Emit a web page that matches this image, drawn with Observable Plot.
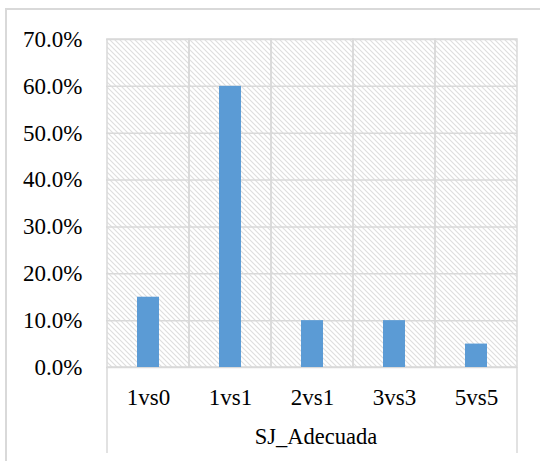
<!DOCTYPE html>
<html>
<head>
<meta charset="utf-8">
<script src="https://cdn.jsdelivr.net/npm/d3@7"></script>
<script src="https://cdn.jsdelivr.net/npm/@observablehq/plot@0.6"></script>
<style>
  html, body { margin: 0; padding: 0; background: #fff; }
  #wrap { position: relative; width: 540px; height: 461px; overflow: hidden; }
  #border { position: absolute; left: 5px; top: 8px; width: 600px; height: 600px;
            border-top: 2px solid #d9d9d9; border-left: 2px solid #d9d9d9; }
  #chart { position: absolute; left: 0; top: 0; }
</style>
</head>
<body>
<div id="wrap"><div id="border"></div><div id="chart"></div></div>
<script>
const categories = ["1vs0", "1vs1", "2vs1", "3vs3", "5vs5"];
const values = [0.15, 0.60, 0.10, 0.10, 0.05];
const yTicks = [0, 0.1, 0.2, 0.3, 0.4, 0.5, 0.6, 0.7];
const groupLabel = "SJ_Adecuada";

const data = categories.map((c, i) => ({category: c, value: values[i]}));
const font = "'Liberation Serif', 'Times New Roman', serif";
const grid = "#d9d9d9";

const plot = Plot.plot({
  width: 540,
  height: 461,
  marginLeft: 106,
  marginRight: 23,
  marginTop: 39,
  marginBottom: 94,
  style: {background: "transparent", overflow: "visible"},
  x: {domain: categories, padding: 0, label: null},
  y: {domain: [0, 0.7], label: null},
  marks: [
    Plot.barY(categories, {x: d => d, y1: 0, y2: 0.7, fill: "url(#hatch)"}),
    Plot.gridY(yTicks, {stroke: grid, strokeOpacity: 1, strokeWidth: 1.5}),
    Plot.barY(categories, {x: d => d, y1: 0, y2: 0.7, fill: "none", stroke: grid, strokeWidth: 1.5}),
    Plot.barY(data, {x: "category", y: "value", fill: "#5B9BD5", insetLeft: 30, insetRight: 30}),
    Plot.axisY(yTicks, {tickSize: 0, tickPadding: 24, tickFormat: d3.format(".1%"), fontSize: 23, fill: "#000"}),
    Plot.axisX({tickSize: 0, tickPadding: 21, fontSize: 23, fill: "#000"}),
    Plot.text([groupLabel], {frameAnchor: "bottom", dx: 4, dy: 76, fontSize: 22.5, fill: "#000"})
  ]
});

const svg = d3.select(plot);
svg.attr("font-family", font).style("font-family", font);
svg.selectAll("g, text").attr("font-family", null).style("font-family", font);
svg.insert("defs", ":first-child").html(
  `<pattern id="hatch" patternUnits="userSpaceOnUse" width="5" height="5">
     <rect width="5" height="5" fill="#fff"/>
     <path d="M-1,-1 L6,6 M-1,4 L1,6 M4,-1 L6,1" stroke="#dedede" stroke-width="1.1"/>
   </pattern>`
);
const xs = plot.scale("x");
const yScale = plot.scale("y");
const x0 = xs.apply(categories[0]);
const x1 = xs.apply(categories[categories.length - 1]) + xs.bandwidth;
const yb = yScale.apply(0);
[x0, x1].forEach(x => {
  svg.append("line").attr("x1", x).attr("x2", x).attr("y1", yb).attr("y2", 453)
    .attr("stroke", grid).attr("stroke-width", 1.5);
});
document.getElementById("chart").appendChild(plot);
</script>
</body>
</html>
